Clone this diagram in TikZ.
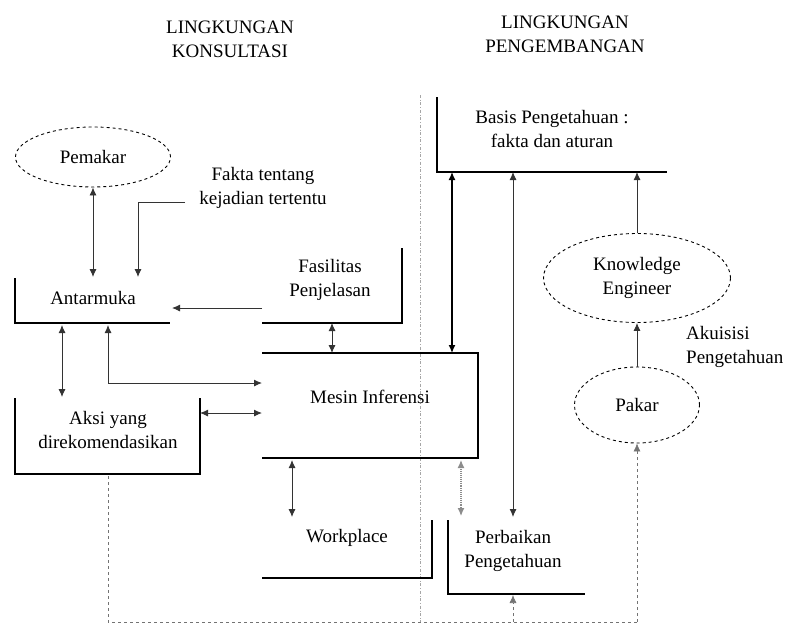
\documentclass[tikz,border=0pt]{standalone}
\usepackage{fontspec}
\setmainfont{Liberation Serif}
\usetikzlibrary{arrows.meta,shapes.geometric}
\begin{document}
\begin{tikzpicture}[x=1pt,y=-1pt,
  txt/.style={font=\fontsize{19}{24}\selectfont, align=center, inner sep=0pt},
  boxline/.style={line width=1.4pt, black},
  conn/.style={line width=0.9pt, black!80, {Latex[length=8pt,width=7pt]}-{Latex[length=8pt,width=7pt]}},
  oneway/.style={line width=0.9pt, black!80, -{Latex[length=8pt,width=7pt]}},
  ell/.style={ellipse, draw, dashed, line width=0.9pt, inner sep=0pt, font=\fontsize{19}{24}\selectfont, align=center},
  fb/.style={dashed, line width=0.6pt, black!55}
]
\useasboundingbox (0,0) rectangle (792,624);
% boundary line
\draw[dash dot, line width=0.5pt, black!35] (420,95) -- (420,624);

% titles
\node[txt] (t1) at (230,39) {LINGKUNGAN\\KONSULTASI};
\node[txt] (t2) at (565,34) {LINGKUNGAN\\PENGEMBANGAN};

% ellipses
\node[ell, minimum width=155pt, minimum height=60pt] (pemakar) at (93,157) {Pemakar};
\node[ell, minimum width=187pt, minimum height=89pt] (ke) at (637,278) {Knowledge\\Engineer};
\node[ell, minimum width=125pt, minimum height=76pt] (pakar) at (637,405) {Pakar};

% texts
\node[txt] (fakta) at (263,188) {Fakta tentang\\kejadian tertentu};
\node[txt] (antarmuka) at (93,298) {Antarmuka};
\node[txt] (fasilitas) at (330,280) {Fasilitas\\Penjelasan};
\node[txt] (mesin) at (370,397) {Mesin Inferensi};
\node[txt] (aksi) at (108,430) {Aksi yang\\direkomendasikan};
\node[txt] (workplace) at (347,538) {Workplace};
\node[txt] (perbaikan) at (513,551) {Perbaikan\\Pengetahuan};
\node[txt] (basis) at (552,129) {Basis Pengetahuan :\\fakta dan aturan};
\node[txt, align=left, anchor=west] (akuisisi) at (686,347) {Akuisisi\\Pengetahuan};

% open boxes
\draw[boxline] (15,278) -- (15,323) -- (170,323);
\draw[boxline] (262,323) -- (402,323) -- (402,248);
\draw[boxline] (262,353) -- (478,353) -- (478,458) -- (262,458);
\draw[boxline] (15,398) -- (15,474) -- (200,474) -- (200,398);
\draw[boxline] (262,578) -- (432,578) -- (432,520);
\draw[boxline] (448,520) -- (448,594) -- (585,594);
\draw[boxline] (437,97) -- (437,172) -- (667,172);

% named anchor coordinates
\coordinate (antTopA) at (93,277);
\coordinate (antTopB) at (138,277);
\coordinate (faktaL) at (185,202);
\coordinate (antR) at (172,308);
\coordinate (fasL) at (262,308);
\coordinate (fasB) at (332,323);
\coordinate (mesT1) at (332,353);
\coordinate (antB1) at (108,325);
\coordinate (mesL1) at (262,383);
\coordinate (antB2) at (62,325);
\coordinate (aksiT) at (62,397);
\coordinate (aksiR) at (200,413);
\coordinate (mesL2) at (262,413);
\coordinate (mesB1) at (292,460);
\coordinate (wpT) at (292,517);
\coordinate (mesB2) at (461,460);
\coordinate (perT1) at (461,516);
\coordinate (basB1) at (452,172);
\coordinate (mesT2) at (452,353);
\coordinate (basB2) at (513,172);
\coordinate (perT2) at (513,517);
\coordinate (basB3) at (637,172);
\coordinate (aksiB) at (108,476);
\coordinate (fbL) at (108,622);
\coordinate (fbM) at (513,622);
\coordinate (fbR) at (637,622);
\coordinate (perB) at (513,595);

% connectors
\draw[conn] (pemakar.south) -- (antTopA);
\draw[oneway] (faktaL) -- (138,202) -- (antTopB);
\draw[oneway] (fasL) -- (antR);
\draw[conn] (fasB) -- (mesT1);
\draw[conn] (antB1) -- (108,383) -- (mesL1);
\draw[conn] (antB2) -- (aksiT);
\draw[conn] (aksiR) -- (mesL2);
\draw[conn] (mesB1) -- (wpT);
\draw[conn, black!45, densely dotted, line width=1.2pt] (mesB2) -- (perT1);
\draw[conn, line width=1.3pt, black] (basB1) -- (mesT2);
\draw[conn] (basB2) -- (perT2);
\draw[oneway] (ke.north) -- (basB3);
\draw[oneway] (pakar.north) -- (ke.south);

% feedback
\draw[fb] (aksiB) -- (fbL) -- (fbR);
\draw[fb, -{Latex[length=8pt,width=7pt]}] (fbR) -- (pakar.south);
\draw[fb, -{Latex[length=8pt,width=7pt]}] (fbM) -- (perB);
\end{tikzpicture}
\end{document}
